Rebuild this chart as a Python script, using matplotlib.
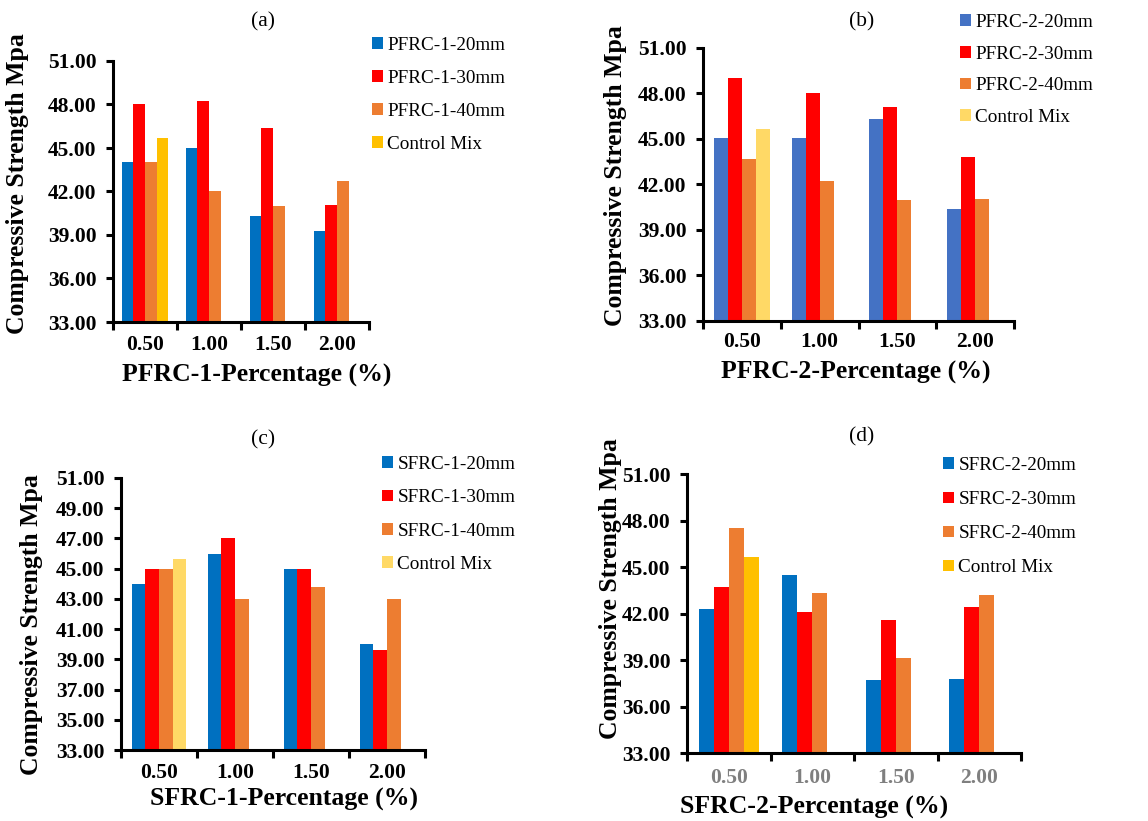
import numpy as np
import matplotlib
matplotlib.use("Agg")
import matplotlib.pyplot as plt

plt.rcParams.update({
    "font.family": "Liberation Serif",
    "axes.linewidth": 2.2,
})

# ── Data ──────────────────────────────────────────────────────────────
percentages = ["0.50", "1.00", "1.50", "2.00"]
control_mix = 45.67

pfrc1_20 = [44.0, 45.0, 40.3, 39.25]
pfrc1_30 = [48.0, 48.25, 46.35, 41.1]
pfrc1_40 = [44.0, 42.0, 41.0, 42.7]

pfrc2_20 = [45.05, 45.05, 46.35, 40.4]
pfrc2_30 = [49.0, 48.0, 47.1, 43.8]
pfrc2_40 = [43.7, 42.25, 40.95, 41.05]

sfrc1_20 = [44.0, 46.0, 45.0, 40.0]
sfrc1_30 = [45.0, 47.0, 45.0, 39.65]
sfrc1_40 = [45.0, 43.0, 43.8, 43.0]

sfrc2_20 = [42.3, 44.5, 37.7, 37.8]
sfrc2_30 = [43.7, 42.1, 41.6, 42.45]
sfrc2_40 = [47.5, 43.3, 39.15, 43.2]

W, H = 1148, 821
fig = plt.figure(figsize=(W / 100, H / 100), dpi=100)


def px_axes(left, right, top, bottom):
    return fig.add_axes([left / W, 1 - bottom / H, (right - left) / W, (bottom - top) / H])


def panel(box, series, labels, colors, yticks, xlabel, title, title_xy,
          leg_xy, ylab_xy, xlab_xy, xtick_color="black", leg_space=0.83, xpad=9.5):
    ax = px_axes(*box)
    x = np.arange(len(percentages))
    w = 0.18
    offs = [-1.5, -0.5, 0.5, 1.5]
    for vals, lab, col, o in zip(series, labels[:3], colors[:3], offs):
        ax.bar(x + o * w, np.array(vals) - 33, w, bottom=33, color=col, label=lab)
    ax.bar([0 + offs[3] * w], [control_mix - 33], w, bottom=33, color=colors[3], label=labels[3])

    ax.set_xlim(-0.5, 3.5)
    ax.set_ylim(33, 51)
    ax.set_yticks(yticks)
    ax.set_yticklabels([f"{v:.2f}" for v in yticks], fontweight="bold", fontsize=15.5)
    ax.set_xticks(np.arange(-0.5, 4.0, 1.0))
    ax.set_xticklabels([])
    ax.set_xticks(x, minor=True)
    ax.set_xticklabels(percentages, minor=True, fontweight="bold", fontsize=15.5,
                       color=xtick_color)
    ax.tick_params(axis="x", which="minor", length=0, pad=xpad)
    ax.tick_params(axis="x", which="major", length=6, width=2.2, direction="out")
    ax.tick_params(axis="y", length=5, width=2.2, direction="out", pad=7)
    for s in ("top", "right"):
        ax.spines[s].set_visible(False)

    ax.set_ylabel("Compressive Strength Mpa", fontsize=18.5, fontweight="bold")
    ax.yaxis.label.set_va("center")
    ax.yaxis.set_label_coords(*ylab_xy)
    ax.set_xlabel(xlabel, fontsize=18.5, fontweight="bold")
    ax.xaxis.label.set_va("center")
    ax.xaxis.set_label_coords(*xlab_xy)

    fig.text(title_xy[0] / W, 1 - title_xy[1] / H, title, fontsize=15.5,
             ha="center", va="center")
    ax.legend(loc="upper left", bbox_to_anchor=(leg_xy[0] / W, 1 - leg_xy[1] / H),
              bbox_transform=fig.transFigure, frameon=False, fontsize=13.8,
              handlelength=0.55, handleheight=0.55, handletextpad=0.25,
              labelspacing=leg_space, borderpad=0, borderaxespad=0)
    return ax


c_blue = "#0070C0"
c_blue2 = "#4472C4"
c_red = "#FF0000"
c_orange = "#ED7D31"
c_gold = "#FFC000"
c_ltgold = "#FFD966"

yt3 = np.arange(33, 52, 3)
yt2 = np.arange(33, 52, 2)

panel((113, 369, 61, 322), [pfrc1_20, pfrc1_30, pfrc1_40],
      ["PFRC-1-20mm", "PFRC-1-30mm", "PFRC-1-40mm", "Control Mix"],
      [c_blue, c_red, c_orange, c_gold], yt3, "PFRC-1-Percentage (%)", "(a)",
      (263, 22), (372, 37), (-0.375, 0.529), (0.5625, -0.203))

panel((703, 1014, 48, 321), [pfrc2_20, pfrc2_30, pfrc2_40],
      ["PFRC-2-20mm", "PFRC-2-30mm", "PFRC-2-40mm", "Control Mix"],
      [c_blue2, c_red, c_orange, c_ltgold], yt3, "PFRC-2-Percentage (%)", "(b)",
      (862, 22), (960, 14), (-0.28, 0.531), (0.492, -0.19), leg_space=0.76, xpad=8)

panel((121, 425, 478, 750), [sfrc1_20, sfrc1_30, sfrc1_40],
      ["SFRC-1-20mm", "SFRC-1-30mm", "SFRC-1-40mm", "Control Mix"],
      [c_blue, c_red, c_orange, c_ltgold], yt2, "SFRC-1-Percentage (%)", "(c)",
      (263, 440), (382, 456), (-0.293, 0.463), (0.536, -0.18), leg_space=0.85,
      xpad=9)

panel((687, 1021, 474, 753), [sfrc2_20, sfrc2_30, sfrc2_40],
      ["SFRC-2-20mm", "SFRC-2-30mm", "SFRC-2-40mm", "Control Mix"],
      [c_blue, c_red, c_orange, c_gold], yt3, "SFRC-2-Percentage (%)", "(d)",
      (862, 437), (943, 457), (-0.228, 0.591), (0.38, -0.194),
      xtick_color="#7F7F7F", leg_space=0.89, xpad=11)

fig.savefig("out.png", dpi=100)
